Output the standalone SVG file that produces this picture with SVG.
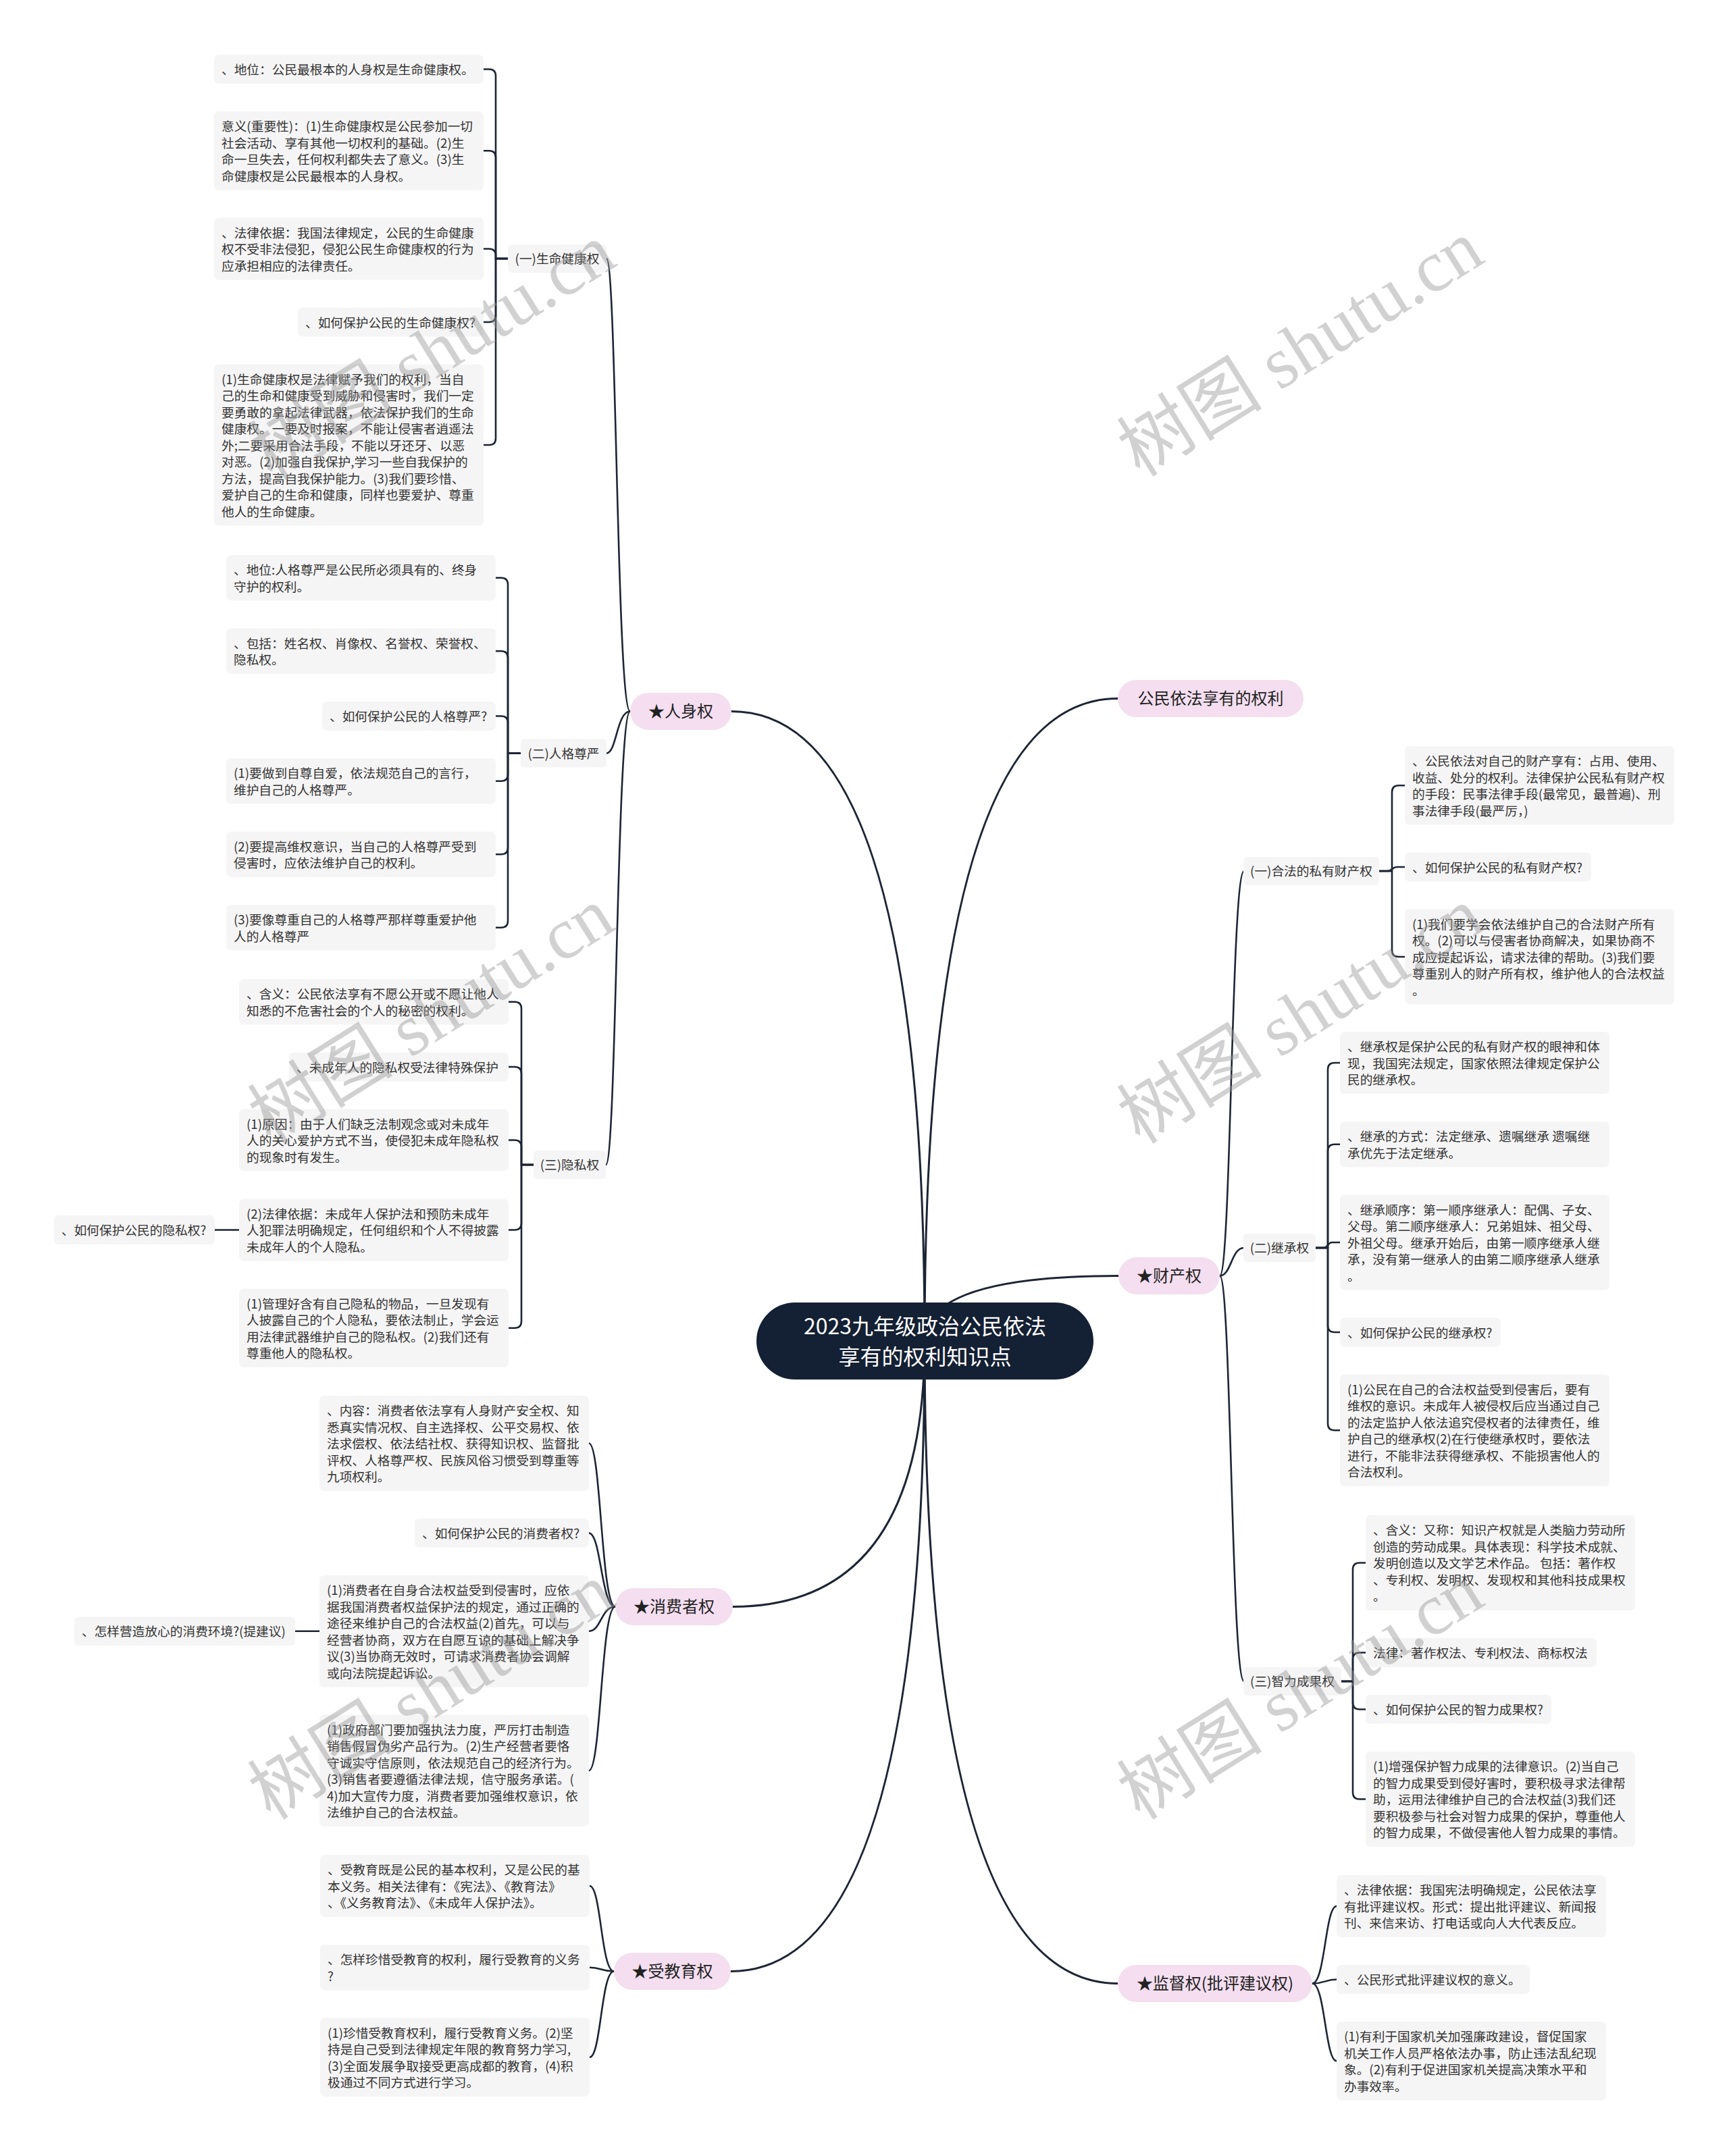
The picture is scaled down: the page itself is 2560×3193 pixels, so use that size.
<svg xmlns="http://www.w3.org/2000/svg" width="2560" height="3193" viewBox="0 0 2560 3193">
<style>
.ln{fill:none;stroke:#1d2535;stroke-width:2.6;stroke-linecap:round;stroke-linejoin:round}
.l1{stroke-width:3}
.lf{fill:#f5f5f5}
.mn{fill:#f4def0}
text{font-family:"Noto Sans CJK SC","Noto Sans",sans-serif;fill:#333}
.t{font-size:18.7px}
.s{font-size:18.7px;text-anchor:middle}
.m{font-size:24px;text-anchor:middle;fill:#222}
.c{font-size:32px;text-anchor:middle;fill:#fff}
.wm{font-family:"Liberation Serif","Noto Sans CJK SC",serif;font-size:108px;fill:#999;fill-opacity:0.45;text-anchor:middle}
</style>
<rect width="2560" height="3193" fill="#fff"/>
<g id="connectors">
<path class="ln l1" d="M1369 1986Q1369 1053.5 1083 1053.5"/>
<path class="ln l1" d="M1369 1986Q1369 2379.5 1085 2379.5"/>
<path class="ln l1" d="M1369 1986Q1369 2919.5 1082 2919.5"/>
<path class="ln l1" d="M1369 1986Q1369 1034.5 1655 1034.5"/>
<path class="ln l1" d="M1369 1986Q1369 1889.5 1656 1889.5"/>
<path class="ln l1" d="M1369 1986Q1369 2937.5 1655 2937.5"/>
<path class="ln" d="M933 1053.5C913 1053.5 913 383 898 383"/>
<path class="ln" d="M933 1053.5C913 1053.5 913 1115.5 898 1115.5"/>
<path class="ln" d="M933 1053.5C913 1053.5 913 1725 897 1725"/>
<path class="ln" d="M1806 1889.5C1823 1889.5 1823 1290 1842 1290"/>
<path class="ln" d="M1806 1889.5C1823 1889.5 1823 1848 1842 1848"/>
<path class="ln" d="M1806 1889.5C1823 1889.5 1823 2490 1842 2490"/>
<path class="ln" d="M911 2379.5C890 2379.5 890 2137.5 872 2137.5"/>
<path class="ln" d="M911 2379.5C890 2379.5 890 2270.5 872 2270.5"/>
<path class="ln" d="M911 2379.5C890 2379.5 890 2415.75 872 2415.75"/>
<path class="ln" d="M911 2379.5C890 2379.5 890 2622.25 872 2622.25"/>
<path class="ln" d="M909 2919.5C890 2919.5 890 2793 873 2793"/>
<path class="ln" d="M909 2919.5C890 2919.5 890 2913.75 873 2913.75"/>
<path class="ln" d="M909 2919.5C890 2919.5 890 3046.75 873 3046.75"/>
<path class="ln" d="M1943 2937.5C1962 2937.5 1962 2823 1979 2823"/>
<path class="ln" d="M1943 2937.5C1962 2937.5 1962 2931.5 1979 2931.5"/>
<path class="ln" d="M1943 2937.5C1962 2937.5 1962 3052.25 1979 3052.25"/>
<path class="ln" d="M752 383H734V112.5Q734 102.5 724 102.5H716"/>
<path class="ln" d="M752 383H734V233.25Q734 223.25 724 223.25H716"/>
<path class="ln" d="M752 383H734V378.5Q734 368.5 724 368.5H716"/>
<path class="ln" d="M752 383H734V467Q734 477 724 477H716"/>
<path class="ln" d="M752 383H734V649Q734 659 724 659H716"/>
<path class="ln" d="M771 1115.5H752V865.75Q752 855.75 742 855.75H734"/>
<path class="ln" d="M771 1115.5H752V974.25Q752 964.25 742 964.25H734"/>
<path class="ln" d="M771 1115.5H752V1070.5Q752 1060.5 742 1060.5H734"/>
<path class="ln" d="M771 1115.5H752V1146.75Q752 1156.75 742 1156.75H734"/>
<path class="ln" d="M771 1115.5H752V1255.25Q752 1265.25 742 1265.25H734"/>
<path class="ln" d="M771 1115.5H752V1363.75Q752 1373.75 742 1373.75H734"/>
<path class="ln" d="M790 1725H772V1493.75Q772 1483.75 762 1483.75H753"/>
<path class="ln" d="M790 1725H772V1590Q772 1580 762 1580H753"/>
<path class="ln" d="M790 1725H772V1698.5Q772 1688.5 762 1688.5H753"/>
<path class="ln" d="M790 1725H772V1811.5Q772 1821.5 762 1821.5H753"/>
<path class="ln" d="M790 1725H772V1956.75Q772 1966.75 762 1966.75H753"/>
<path class="ln" d="M354 1821.5H318"/>
<path class="ln" d="M473 2415.75H437"/>
<path class="ln" d="M2042 1290H2061V1173.25Q2061 1163.25 2071 1163.25H2080"/>
<path class="ln" d="M2042 1290H2055C2061 1290 2061 1284 2068 1284H2080"/>
<path class="ln" d="M2042 1290H2061V1407Q2061 1417 2071 1417H2080"/>
<path class="ln" d="M1948 1848H1966V1584Q1966 1574 1976 1574H1984"/>
<path class="ln" d="M1948 1848H1966V1704.75Q1966 1694.75 1976 1694.75H1984"/>
<path class="ln" d="M1948 1848H1960C1966 1848 1966 1840 1972 1840H1984"/>
<path class="ln" d="M1948 1848H1966V1963Q1966 1973 1976 1973H1984"/>
<path class="ln" d="M1948 1848H1966V2108.25Q1966 2118.25 1976 2118.25H1984"/>
<path class="ln" d="M1986 2490H2003V2324.5Q2003 2314.5 2013 2314.5H2022"/>
<path class="ln" d="M1986 2490H2003V2457.5Q2003 2447.5 2013 2447.5H2022"/>
<path class="ln" d="M1986 2490H2003V2521.5Q2003 2531.5 2013 2531.5H2022"/>
<path class="ln" d="M1986 2490H2003V2654.5Q2003 2664.5 2013 2664.5H2022"/>
</g>
<g id="center"><rect x="1120" y="1929" width="499" height="114" rx="57" fill="#142033"/><text class="c"><tspan x="1369.5" y="1976">2023九年级政治公民依法</tspan><tspan x="1369.5" y="2021">享有的权利知识点</tspan></text></g>
<g id="n-renshen"><rect class="mn" x="933" y="1026" width="150" height="55" rx="27.5"/><text class="m" x="1008" y="1062">★人身权</text></g>
<g id="n-xiaofei"><rect class="mn" x="911" y="2352" width="174" height="55" rx="27.5"/><text class="m" x="998" y="2388">★消费者权</text></g>
<g id="n-jiaoyu"><rect class="mn" x="909" y="2892" width="173" height="55" rx="27.5"/><text class="m" x="995.5" y="2928">★受教育权</text></g>
<g id="n-quanli"><rect class="mn" x="1655" y="1007" width="275" height="55" rx="27.5"/><text class="m" x="1792.5" y="1043">公民依法享有的权利</text></g>
<g id="n-caichan"><rect class="mn" x="1656" y="1862" width="150" height="55" rx="27.5"/><text class="m" x="1731" y="1898">★财产权</text></g>
<g id="n-jiandu"><rect class="mn" x="1655" y="2910" width="288" height="55" rx="27.5"/><text class="m" x="1799" y="2946">★监督权(批评建议权)</text></g>
<g id="s1"><rect class="lf" x="752" y="362" width="146" height="42" rx="6"/><text class="s" x="825" y="390">(一)生命健康权</text></g>
<g id="s2"><rect class="lf" x="771" y="1094.5" width="127" height="42" rx="6"/><text class="s" x="834.5" y="1122.5">(二)人格尊严</text></g>
<g id="s3"><rect class="lf" x="790" y="1704" width="107" height="42" rx="6"/><text class="s" x="843.5" y="1732">(三)隐私权</text></g>
<g id="s4"><rect class="lf" x="1841" y="1269" width="201" height="42" rx="6"/><text class="s" x="1941.5" y="1297">(一)合法的私有财产权</text></g>
<g id="s5"><rect class="lf" x="1841" y="1827" width="107" height="42" rx="6"/><text class="s" x="1894.5" y="1855">(二)继承权</text></g>
<g id="s6"><rect class="lf" x="1841" y="2469" width="145" height="42" rx="6"/><text class="s" x="1913.5" y="2497">(三)智力成果权</text></g>
<g id="a1"><rect class="lf" x="317" y="81" width="399" height="43" rx="7"/><text class="t" x="328" y="110">、地位：公民最根本的人身权是生命健康权。</text></g>
<g id="a2"><rect class="lf" x="317" y="165" width="399" height="116.5" rx="7"/><text class="t"><tspan x="328" y="194">意义(重要性)：(1)生命健康权是公民参加一切</tspan><tspan x="328" y="218.5">社会活动、享有其他一切权利的基础。(2)生</tspan><tspan x="328" y="243">命一旦失去，任何权利都失去了意义。(3)生</tspan><tspan x="328" y="267.5">命健康权是公民最根本的人身权。</tspan></text></g>
<g id="a3"><rect class="lf" x="317" y="322.5" width="399" height="92" rx="7"/><text class="t"><tspan x="328" y="351.5">、法律依据：我国法律规定，公民的生命健康</tspan><tspan x="328" y="376">权不受非法侵犯，侵犯公民生命健康权的行为</tspan><tspan x="328" y="400.5">应承担相应的法律责任。</tspan></text></g>
<g id="a4"><rect class="lf" x="441" y="455.5" width="275" height="43" rx="7"/><text class="t" x="452" y="484.5">、如何保护公民的生命健康权?</text></g>
<g id="a5"><rect class="lf" x="317" y="539.5" width="399" height="239" rx="7"/><text class="t"><tspan x="328" y="568.5">(1)生命健康权是法律赋予我们的权利，当自</tspan><tspan x="328" y="593">己的生命和健康受到威胁和侵害时，我们一定</tspan><tspan x="328" y="617.5">要勇敢的拿起法律武器，依法保护我们的生命</tspan><tspan x="328" y="642">健康权。一要及时报案，不能让侵害者逍遥法</tspan><tspan x="328" y="666.5">外;二要采用合法手段，不能以牙还牙、以恶</tspan><tspan x="328" y="691">对恶。(2)加强自我保护,学习一些自我保护的</tspan><tspan x="328" y="715.5">方法，提高自我保护能力。(3)我们要珍惜、</tspan><tspan x="328" y="740">爱护自己的生命和健康，同样也要爱护、尊重</tspan><tspan x="328" y="764.5">他人的生命健康。</tspan></text></g>
<g id="b1"><rect class="lf" x="335" y="822" width="399" height="67.5" rx="7"/><text class="t"><tspan x="346" y="851">、地位:人格尊严是公民所必须具有的、终身</tspan><tspan x="346" y="875.5">守护的权利。</tspan></text></g>
<g id="b2"><rect class="lf" x="335" y="930.5" width="399" height="67.5" rx="7"/><text class="t"><tspan x="346" y="959.5">、包括：姓名权、肖像权、名誉权、荣誉权、</tspan><tspan x="346" y="984">隐私权。</tspan></text></g>
<g id="b3"><rect class="lf" x="477" y="1039" width="257" height="43" rx="7"/><text class="t" x="488" y="1068">、如何保护公民的人格尊严?</text></g>
<g id="b4"><rect class="lf" x="335" y="1123" width="399" height="67.5" rx="7"/><text class="t"><tspan x="346" y="1152">(1)要做到自尊自爱，依法规范自己的言行，</tspan><tspan x="346" y="1176.5">维护自己的人格尊严。</tspan></text></g>
<g id="b5"><rect class="lf" x="335" y="1231.5" width="399" height="67.5" rx="7"/><text class="t"><tspan x="346" y="1260.5">(2)要提高维权意识，当自己的人格尊严受到</tspan><tspan x="346" y="1285">侵害时，应依法维护自己的权利。</tspan></text></g>
<g id="b6"><rect class="lf" x="335" y="1340" width="399" height="67.5" rx="7"/><text class="t"><tspan x="346" y="1369">(3)要像尊重自己的人格尊严那样尊重爱护他</tspan><tspan x="346" y="1393.5">人的人格尊严</tspan></text></g>
<g id="c1"><rect class="lf" x="354" y="1450" width="399" height="67.5" rx="7"/><text class="t"><tspan x="365" y="1479">、含义：公民依法享有不愿公开或不愿让他人</tspan><tspan x="365" y="1503.5">知悉的不危害社会的个人的秘密的权利。</tspan></text></g>
<g id="c2"><rect class="lf" x="428" y="1558.5" width="325" height="43" rx="7"/><text class="t" x="439" y="1587.5">、未成年人的隐私权受法律特殊保护</text></g>
<g id="c3"><rect class="lf" x="354" y="1642.5" width="399" height="92" rx="7"/><text class="t"><tspan x="365" y="1671.5">(1)原因：由于人们缺乏法制观念或对未成年</tspan><tspan x="365" y="1696">人的关心爱护方式不当，使侵犯未成年隐私权</tspan><tspan x="365" y="1720.5">的现象时有发生。</tspan></text></g>
<g id="c4"><rect class="lf" x="354" y="1775.5" width="399" height="92" rx="7"/><text class="t"><tspan x="365" y="1804.5">(2)法律依据：未成年人保护法和预防未成年</tspan><tspan x="365" y="1829">人犯罪法明确规定，任何组织和个人不得披露</tspan><tspan x="365" y="1853.5">未成年人的个人隐私。</tspan></text></g>
<g id="c5"><rect class="lf" x="354" y="1908.5" width="399" height="116.5" rx="7"/><text class="t"><tspan x="365" y="1937.5">(1)管理好含有自己隐私的物品，一旦发现有</tspan><tspan x="365" y="1962">人披露自己的个人隐私，要依法制止，学会运</tspan><tspan x="365" y="1986.5">用法律武器维护自己的隐私权。(2)我们还有</tspan><tspan x="365" y="2011">尊重他人的隐私权。</tspan></text></g>
<g id="c6"><rect class="lf" x="80" y="1800" width="238" height="43" rx="7"/><text class="t" x="91" y="1829">、如何保护公民的隐私权?</text></g>
<g id="d1"><rect class="lf" x="473" y="2067" width="399" height="141" rx="7"/><text class="t"><tspan x="484" y="2096">、内容：消费者依法享有人身财产安全权、知</tspan><tspan x="484" y="2120.5">悉真实情况权、自主选择权、公平交易权、依</tspan><tspan x="484" y="2145">法求偿权、依法结社权、获得知识权、监督批</tspan><tspan x="484" y="2169.5">评权、人格尊严权、民族风俗习惯受到尊重等</tspan><tspan x="484" y="2194">九项权利。</tspan></text></g>
<g id="d2"><rect class="lf" x="614" y="2249" width="258" height="43" rx="7"/><text class="t" x="625" y="2278">、如何保护公民的消费者权?</text></g>
<g id="d3"><rect class="lf" x="473" y="2333" width="399" height="165.5" rx="7"/><text class="t"><tspan x="484" y="2362">(1)消费者在自身合法权益受到侵害时，应依</tspan><tspan x="484" y="2386.5">据我国消费者权益保护法的规定，通过正确的</tspan><tspan x="484" y="2411">途径来维护自己的合法权益(2)首先，可以与</tspan><tspan x="484" y="2435.5">经营者协商，双方在自愿互谅的基础上解决争</tspan><tspan x="484" y="2460">议(3)当协商无效时，可请求消费者协会调解</tspan><tspan x="484" y="2484.5">或向法院提起诉讼。</tspan></text></g>
<g id="d4"><rect class="lf" x="473" y="2539.5" width="399" height="165.5" rx="7"/><text class="t"><tspan x="484" y="2568.5">(1)政府部门要加强执法力度，严厉打击制造</tspan><tspan x="484" y="2593">销售假冒伪劣产品行为。(2)生产经营者要恪</tspan><tspan x="484" y="2617.5">守诚实守信原则，依法规范自己的经济行为。</tspan><tspan x="484" y="2642">(3)销售者要遵循法律法规，信守服务承诺。(</tspan><tspan x="484" y="2666.5">4)加大宣传力度，消费者要加强维权意识，依</tspan><tspan x="484" y="2691">法维护自己的合法权益。</tspan></text></g>
<g id="d5"><rect class="lf" x="110" y="2394.25" width="327" height="43" rx="7"/><text class="t" x="121" y="2423.25">、怎样营造放心的消费环境?(提建议)</text></g>
<g id="e1"><rect class="lf" x="474" y="2747" width="399" height="92" rx="7"/><text class="t"><tspan x="485" y="2776">、受教育既是公民的基本权利，又是公民的基</tspan><tspan x="485" y="2800.5">本义务。相关法律有：《宪法》、《教育法》</tspan><tspan x="485" y="2825">、《义务教育法》、《未成年人保护法》。</tspan></text></g>
<g id="e2"><rect class="lf" x="474" y="2880" width="399" height="67.5" rx="7"/><text class="t"><tspan x="485" y="2909">、怎样珍惜受教育的权利，履行受教育的义务</tspan><tspan x="485" y="2933.5">?</tspan></text></g>
<g id="e3"><rect class="lf" x="474" y="2988.5" width="399" height="116.5" rx="7"/><text class="t"><tspan x="485" y="3017.5">(1)珍惜受教育权利，履行受教育义务。(2)坚</tspan><tspan x="485" y="3042">持是自己受到法律规定年限的教育努力学习,</tspan><tspan x="485" y="3066.5">(3)全面发展争取接受更高成都的教育，(4)积</tspan><tspan x="485" y="3091">极通过不同方式进行学习。</tspan></text></g>
<g id="f1"><rect class="lf" x="2080" y="1105" width="399" height="116.5" rx="7"/><text class="t"><tspan x="2091" y="1134">、公民依法对自己的财产享有：占用、使用、</tspan><tspan x="2091" y="1158.5">收益、处分的权利。法律保护公民私有财产权</tspan><tspan x="2091" y="1183">的手段：民事法律手段(最常见，最普遍)、刑</tspan><tspan x="2091" y="1207.5">事法律手段(最严厉，)</tspan></text></g>
<g id="f2"><rect class="lf" x="2080" y="1262.5" width="276" height="43" rx="7"/><text class="t" x="2091" y="1291.5">、如何保护公民的私有财产权?</text></g>
<g id="f3"><rect class="lf" x="2080" y="1346.5" width="399" height="141" rx="7"/><text class="t"><tspan x="2091" y="1375.5">(1)我们要学会依法维护自己的合法财产所有</tspan><tspan x="2091" y="1400">权。(2)可以与侵害者协商解决，如果协商不</tspan><tspan x="2091" y="1424.5">成应提起诉讼，请求法律的帮助。(3)我们要</tspan><tspan x="2091" y="1449">尊重别人的财产所有权，维护他人的合法权益</tspan><tspan x="2091" y="1473.5">。</tspan></text></g>
<g id="g1"><rect class="lf" x="1984" y="1528" width="399" height="92" rx="7"/><text class="t"><tspan x="1995" y="1557">、继承权是保护公民的私有财产权的眼神和体</tspan><tspan x="1995" y="1581.5">现，我国宪法规定，国家依照法律规定保护公</tspan><tspan x="1995" y="1606">民的继承权。</tspan></text></g>
<g id="g2"><rect class="lf" x="1984" y="1661" width="399" height="67.5" rx="7"/><text class="t"><tspan x="1995" y="1690">、继承的方式：法定继承、遗嘱继承 遗嘱继</tspan><tspan x="1995" y="1714.5">承优先于法定继承。</tspan></text></g>
<g id="g3"><rect class="lf" x="1984" y="1769.5" width="399" height="141" rx="7"/><text class="t"><tspan x="1995" y="1798.5">、继承顺序：第一顺序继承人：配偶、子女、</tspan><tspan x="1995" y="1823">父母。第二顺序继承人：兄弟姐妹、祖父母、</tspan><tspan x="1995" y="1847.5">外祖父母。继承开始后，由第一顺序继承人继</tspan><tspan x="1995" y="1872">承，没有第一继承人的由第二顺序继承人继承</tspan><tspan x="1995" y="1896.5">。</tspan></text></g>
<g id="g4"><rect class="lf" x="1984" y="1951.5" width="238" height="43" rx="7"/><text class="t" x="1995" y="1980.5">、如何保护公民的继承权?</text></g>
<g id="g5"><rect class="lf" x="1984" y="2035.5" width="399" height="165.5" rx="7"/><text class="t"><tspan x="1995" y="2064.5">(1)公民在自己的合法权益受到侵害后，要有</tspan><tspan x="1995" y="2089">维权的意识。未成年人被侵权后应当通过自己</tspan><tspan x="1995" y="2113.5">的法定监护人依法追究侵权者的法律责任，维</tspan><tspan x="1995" y="2138">护自己的继承权(2)在行使继承权时，要依法</tspan><tspan x="1995" y="2162.5">进行，不能非法获得继承权、不能损害他人的</tspan><tspan x="1995" y="2187">合法权利。</tspan></text></g>
<g id="h1"><rect class="lf" x="2022" y="2244" width="399" height="141" rx="7"/><text class="t"><tspan x="2033" y="2273">、含义：又称：知识产权就是人类脑力劳动所</tspan><tspan x="2033" y="2297.5">创造的劳动成果。具体表现：科学技术成就、</tspan><tspan x="2033" y="2322">发明创造以及文学艺术作品。 包括：著作权</tspan><tspan x="2033" y="2346.5">、专利权、发明权、发现权和其他科技成果权</tspan><tspan x="2033" y="2371">。</tspan></text></g>
<g id="h2"><rect class="lf" x="2022" y="2426" width="342" height="43" rx="7"/><text class="t" x="2033" y="2455">法律：著作权法、专利权法、商标权法</text></g>
<g id="h3"><rect class="lf" x="2022" y="2510" width="275" height="43" rx="7"/><text class="t" x="2033" y="2539">、如何保护公民的智力成果权?</text></g>
<g id="h4"><rect class="lf" x="2022" y="2594" width="399" height="141" rx="7"/><text class="t"><tspan x="2033" y="2623">(1)增强保护智力成果的法律意识。(2)当自己</tspan><tspan x="2033" y="2647.5">的智力成果受到侵好害时，要积极寻求法律帮</tspan><tspan x="2033" y="2672">助，运用法律维护自己的合法权益(3)我们还</tspan><tspan x="2033" y="2696.5">要积极参与社会对智力成果的保护，尊重他人</tspan><tspan x="2033" y="2721">的智力成果，不做侵害他人智力成果的事情。</tspan></text></g>
<g id="i1"><rect class="lf" x="1979" y="2777" width="399" height="92" rx="7"/><text class="t"><tspan x="1990" y="2806">、法律依据：我国宪法明确规定，公民依法享</tspan><tspan x="1990" y="2830.5">有批评建议权。形式：提出批评建议、新闻报</tspan><tspan x="1990" y="2855">刊、来信来访、打电话或向人大代表反应。</tspan></text></g>
<g id="i2"><rect class="lf" x="1979" y="2910" width="286" height="43" rx="7"/><text class="t" x="1990" y="2939">、公民形式批评建议权的意义。</text></g>
<g id="i3"><rect class="lf" x="1979" y="2994" width="399" height="116.5" rx="7"/><text class="t"><tspan x="1990" y="3023">(1)有利于国家机关加强廉政建设，督促国家</tspan><tspan x="1990" y="3047.5">机关工作人员严格依法办事，防止违法乱纪现</tspan><tspan x="1990" y="3072">象。(2)有利于促进国家机关提高决策水平和</tspan><tspan x="1990" y="3096.5">办事效率。</tspan></text></g>
<g id="watermark">
<text class="wm" x="643" y="557" transform="rotate(-32 643 525)">树图 shutu.cn</text>
<text class="wm" x="1928" y="552" transform="rotate(-32 1928 520)">树图 shutu.cn</text>
<text class="wm" x="641" y="1540" transform="rotate(-32 641 1508)">树图 shutu.cn</text>
<text class="wm" x="1928" y="1540" transform="rotate(-32 1928 1508)">树图 shutu.cn</text>
<text class="wm" x="641" y="2541" transform="rotate(-32 641 2509)">树图 shutu.cn</text>
<text class="wm" x="1928" y="2541" transform="rotate(-32 1928 2509)">树图 shutu.cn</text>
</g>
</svg>
